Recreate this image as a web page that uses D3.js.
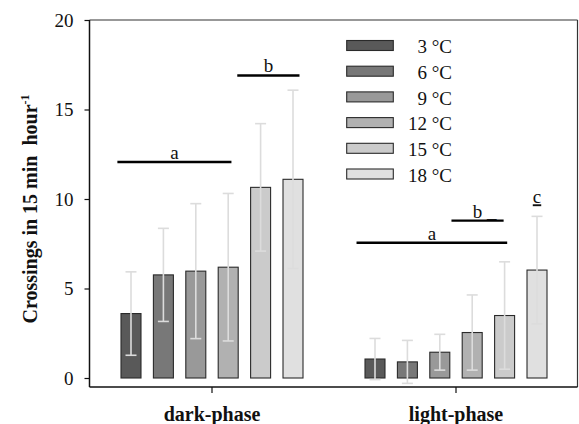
<!DOCTYPE html>
<html><head><meta charset="utf-8">
<script src="https://cdn.jsdelivr.net/npm/d3@7"></script>
<style>body{margin:0;background:#fff}svg{display:block}</style>
</head><body><svg id="c" width="579" height="424" style="font-family:'Liberation Serif','Times New Roman',serif"></svg>
<script>
const phases = ["dark-phase", "light-phase"];
const temps = ["3 °C", "6 °C", "9 °C", "12 °C", "15 °C", "18 °C"];
const darkMeans = [3.6, 5.76, 5.97, 6.19, 10.65, 11.1];
const darkErr = [2.33, 2.6, 3.77, 4.12, 3.56, 4.98];
const lightMeans = [1.06, 0.9, 1.44, 2.54, 3.49, 6.03];
const lightErr = [1.15, 1.2, 1.0, 2.1, 3.0, 3.0];
const yTicks = [0, 5, 10, 15, 20];
const fills = ["#595959", "#787878", "#999999", "#b1b1b1", "#cbcbcb", "#e0e0e0"];
// significance groups: phase, from/to in bar-index units, level in data units
const sigPhase = ["dark-phase", "dark-phase", "light-phase", "light-phase"];
const sigFrom = [-0.42, 3.28, -0.57, 2.36];
const sigTo = [3.1, 5.2, 4.08, 3.97];
const sigLevel = [12.07, 16.9, 7.56, 8.79];
const sigLabel = ["a", "b", "a", "b"];

const FONT = "'Liberation Serif','Times New Roman',serif";
const svg = d3.select("#c");
const L = 89.5, R = 577.5, T = 20, B = 387;
const y = d3.scaleLinear().domain([0, 20]).range([378, 20]);
const x = d3.scaleBand().domain(phases).range([90, 578]);
const inner = d3.scaleBand().domain(temps).range([-91, 91]).paddingInner(0.383);
const idx = d3.scaleLinear().domain([0, 5]).range([inner(temps[0]) + inner.bandwidth()/2, inner(temps[5]) + inner.bandwidth()/2]);
const cx = p => x(p) + x.bandwidth()/2;

const rows = [];
phases.forEach((p, pi) => temps.forEach((t, ti) => {
  rows.push({p, t, ti, m: pi ? lightMeans[ti] : darkMeans[ti], e: pi ? lightErr[ti] : darkErr[ti]});
}));

// frame
svg.append("line").attr("x1", L).attr("x2", R).attr("y1", T).attr("y2", T).attr("stroke", "#333").attr("stroke-width", 1.2);
svg.append("line").attr("x1", R).attr("x2", R).attr("y1", T).attr("y2", B).attr("stroke", "#333").attr("stroke-width", 1.2);

// bars
svg.append("g").selectAll("rect").data(rows).join("rect")
  .attr("x", d => cx(d.p) + inner(d.t)).attr("width", inner.bandwidth())
  .attr("y", d => y(d.m)).attr("height", d => y(0) - y(d.m))
  .attr("fill", d => fills[d.ti]).attr("stroke", "#2a2a2a").attr("stroke-width", 1.1);

// error bars
const eg = svg.append("g").attr("stroke", "#dcdcdc").attr("stroke-width", 1.6).attr("fill", "none");
rows.forEach(d => {
  const xc = cx(d.p) + inner(d.t) + inner.bandwidth()/2;
  eg.append("line").attr("x1", xc).attr("x2", xc).attr("y1", y(d.m - d.e)).attr("y2", y(d.m + d.e));
  [d.m - d.e, d.m + d.e].forEach(v => eg.append("line").attr("x1", xc - 5.5).attr("x2", xc + 5.5).attr("y1", y(v)).attr("y2", y(v)));
});

// y axis
const ya = svg.append("g").attr("transform", `translate(${L},0)`)
  .call(d3.axisLeft(y).tickValues(yTicks).tickSize(5).tickPadding(11).tickSizeOuter(0));
ya.attr("font-family", null).attr("font-size", null);
ya.select(".domain").remove();
ya.selectAll("line").attr("stroke", "#111").attr("stroke-width", 1.2);
ya.selectAll("text").style("font-size", "19px").style("font-family", FONT).attr("fill", "#111");
svg.append("line").attr("x1", L).attr("x2", L).attr("y1", T).attr("y2", B).attr("stroke", "#111").attr("stroke-width", 1.5);

// x axis
const xa = svg.append("g").attr("transform", `translate(0,${B})`)
  .call(d3.axisBottom(x).tickSize(6).tickPadding(14).tickSizeOuter(0));
xa.attr("font-family", null).attr("font-size", null);
xa.select(".domain").remove();
xa.selectAll("line").attr("stroke", "#111").attr("stroke-width", 1.2);
xa.selectAll("text").style("font-size", "20px").style("font-weight", "bold").style("font-family", FONT).attr("fill", "#111");
svg.append("line").attr("x1", L).attr("x2", R).attr("y1", B).attr("y2", B).attr("stroke", "#111").attr("stroke-width", 1.5);

// y title
const yt = svg.append("text").attr("transform", "translate(37,209) rotate(-90)")
  .attr("text-anchor", "middle").style("font-size", "20px").style("font-weight", "bold").style("font-family", FONT).attr("fill", "#111");
yt.append("tspan").text("Crossings in 15 min\u00a0\u00a0hour");
yt.append("tspan").style("font-size", "12px").attr("dy", -8).text("-1");

// significance
sigLabel.forEach((lab, i) => {
  const x0 = cx(sigPhase[i]) + idx(sigFrom[i]), x1 = cx(sigPhase[i]) + idx(sigTo[i]);
  const yy = y(sigLevel[i]);
  svg.append("line").attr("x1", x0).attr("x2", x1).attr("y1", yy).attr("y2", yy).attr("stroke", "#000").attr("stroke-width", 2.4);
  const t = svg.append("text").attr("y", yy - 3).style("font-size", "19px").style("font-family", FONT).attr("fill", "#111");
  if (i === 3) {
    t.attr("x", (x0 + x1)/2 - 4.75).attr("text-anchor", "start").text("b\u00a0_");
  } else {
    t.attr("x", (x0 + x1)/2).attr("text-anchor", "middle").text(lab);
  }
});
svg.append("text").attr("x", cx("light-phase") + idx(5)).attr("y", y(9.76)).attr("text-anchor", "middle")
  .style("font-size", "19px").style("font-family", FONT).attr("fill", "#111").style("text-decoration", "underline").text("c");

// legend
const lg = svg.append("g");
temps.forEach((t, i) => {
  const cy = 45.5 + i * 25.7;
  lg.append("rect").attr("x", 346.7).attr("y", cy - 5).attr("width", 46.6).attr("height", 10)
    .attr("fill", fills[i]).attr("stroke", "#2a2a2a").attr("stroke-width", 1.1);
  lg.append("text").attr("x", 452).attr("y", cy + 7.8).attr("text-anchor", "end").style("font-size", "19px").style("font-family", FONT).attr("fill", "#111").text(t);
});
</script></body></html>
